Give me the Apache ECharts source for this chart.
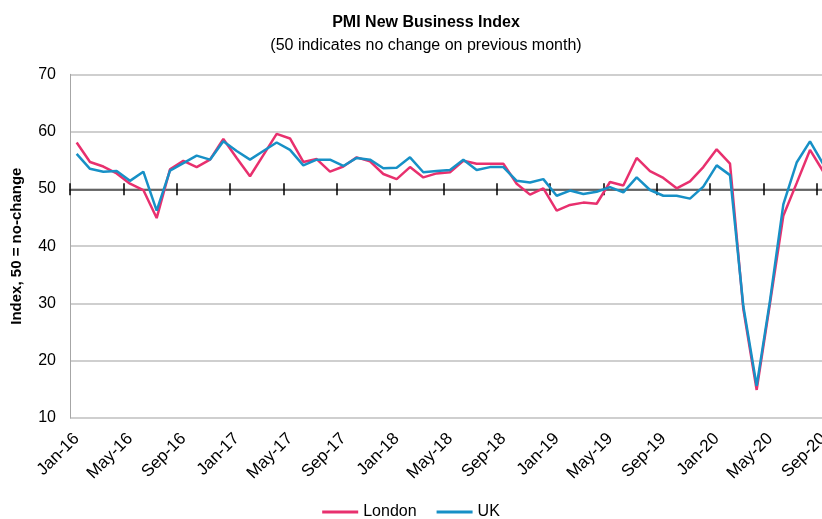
<!DOCTYPE html>
<html>
<head>
<meta charset="utf-8">
<script src="https://cdn.jsdelivr.net/npm/echarts@6/dist/echarts.min.js"></script>
<style>html,body{margin:0;padding:0;background:#fff;}#chart{width:822px;height:519px;}</style>
</head>
<body>
<div id="chart"></div>
<script>
var months = ['Jan-16','Feb-16','Mar-16','Apr-16','May-16','Jun-16','Jul-16','Aug-16','Sep-16','Oct-16','Nov-16','Dec-16',
'Jan-17','Feb-17','Mar-17','Apr-17','May-17','Jun-17','Jul-17','Aug-17','Sep-17','Oct-17','Nov-17','Dec-17',
'Jan-18','Feb-18','Mar-18','Apr-18','May-18','Jun-18','Jul-18','Aug-18','Sep-18','Oct-18','Nov-18','Dec-18',
'Jan-19','Feb-19','Mar-19','Apr-19','May-19','Jun-19','Jul-19','Aug-19','Sep-19','Oct-19','Nov-19','Dec-19',
'Jan-20','Feb-20','Mar-20','Apr-20','May-20','Jun-20','Jul-20','Aug-20','Sep-20'];
var london = [58.1,54.7,53.9,52.7,50.9,49.8,44.9,53.4,54.9,53.8,55.1,58.7,
55.4,52.2,55.9,59.6,58.8,54.7,55.2,53.0,53.9,55.5,54.8,52.6,
51.7,53.8,52.0,52.7,52.9,54.9,54.4,54.4,54.4,50.9,49.0,50.1,
46.2,47.2,47.6,47.4,51.2,50.6,55.4,53.1,51.9,50.1,51.3,53.8,
56.9,54.4,29.0,14.9,30.0,45.3,51.0,56.8,53.0];
var uk = [56.1,53.5,53.0,53.1,51.4,53.0,46.2,53.2,54.5,55.8,55.1,58.3,
56.6,55.1,56.6,58.1,56.8,54.1,55.1,55.1,54.0,55.4,55.1,53.6,
53.7,55.5,52.9,53.1,53.3,55.1,53.3,53.8,53.8,51.4,51.1,51.7,
48.8,49.7,49.1,49.5,50.3,49.4,52.0,49.8,48.8,48.8,48.3,50.4,
54.1,52.4,29.5,15.6,30.5,47.3,54.6,58.3,54.3];
var titleText = 'PMI New Business Index';
var subtitleText = '(50 indicates no change on previous month)';
var yAxisName = 'Index, 50 = no-change';

var FONT = '"Liberation Sans", Arial, sans-serif';
var chart = echarts.init(document.getElementById('chart'), null, {renderer: 'canvas'});
var lineOffset = -(418 - 189.3);
chart.setOption({
  animation: false,
  backgroundColor: '#ffffff',
  title: [
    {text: titleText, left: 421, top: 10, textAlign: 'center',
     textStyle: {fontFamily: FONT, fontSize: 16, fontWeight: 'bold', color: '#000'}},
    {text: subtitleText, left: 421, top: 33, textAlign: 'center',
     textStyle: {fontFamily: FONT, fontSize: 16, fontWeight: 'normal', color: '#000'}}
  ],
  legend: {
    data: ['London', 'UK'], left: 'center', top: 499,
    icon: 'rect', itemWidth: 36, itemHeight: 3, itemGap: 20,
    textStyle: {fontFamily: FONT, fontSize: 16, color: '#000'}
  },
  grid: {left: 70, width: 760, top: 74.3, height: 343.7, containLabel: false, outerBoundsMode: 'none'},
  xAxis: [
    {type: 'category', data: months, boundaryGap: true, position: 'bottom',
     axisLine: {show: false}, axisTick: {show: false},
     axisLabel: {interval: 3, rotate: 45, margin: 18, fontFamily: FONT, fontSize: 17, color: '#000'},
     splitLine: {show: false}},
    {type: 'category', data: months, boundaryGap: true, position: 'bottom', offset: lineOffset,
     axisLine: {show: true, onZero: false, lineStyle: {color: '#404040', width: 1.5}},
     axisTick: {show: true, interval: 3, length: 6, lineStyle: {color: '#000', width: 1.5}},
     axisLabel: {show: false}, splitLine: {show: false}},
    {type: 'category', data: months, boundaryGap: true, position: 'bottom', offset: lineOffset,
     axisLine: {show: false, onZero: false},
     axisTick: {show: true, inside: true, interval: 3, length: 6, lineStyle: {color: '#000', width: 1.5}},
     axisLabel: {show: false}, splitLine: {show: false}}
  ],
  yAxis: {
    type: 'value', min: 10, max: 70, interval: 10,
    name: yAxisName, nameLocation: 'middle', nameRotate: 90, nameGap: 46,
    nameTextStyle: {fontFamily: FONT, fontSize: 15, fontWeight: 'bold', color: '#000'},
    axisLine: {show: true, lineStyle: {color: '#a6a6a6', width: 1}},
    axisTick: {show: false},
    axisLabel: {margin: 14, fontFamily: FONT, fontSize: 16, color: '#000'},
    splitLine: {show: true, lineStyle: {color: '#bfbfbf', width: 1.5}}
  },
  series: [
    {name: 'London', type: 'line', data: london, xAxisIndex: 0, symbol: 'none',
     lineStyle: {color: '#e8306e', width: 2.5}, itemStyle: {color: '#e8306e'}, z: 2},
    {name: 'UK', type: 'line', data: uk, xAxisIndex: 0, symbol: 'none',
     lineStyle: {color: '#1790c6', width: 2.5}, itemStyle: {color: '#1790c6'}, z: 3}
  ]
});
</script>
</body>
</html>
